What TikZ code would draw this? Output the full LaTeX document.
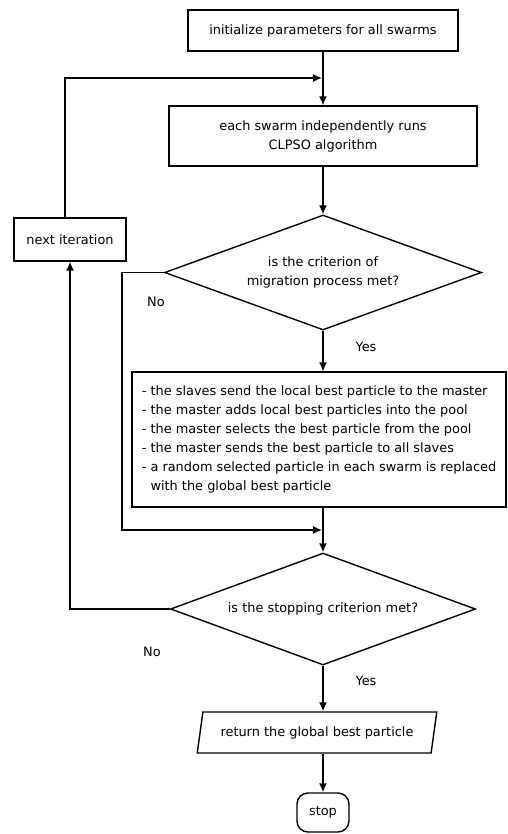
\documentclass[tikz,border=0pt]{standalone}
\usepackage{fontspec}
\setmainfont{DejaVu Sans}
\usetikzlibrary{shapes.geometric,arrows.meta}
\begin{document}
\begin{tikzpicture}[x=1pt,y=-1pt,line width=1.4pt,
  txt/.style={font=\fontsize{12.9}{19}\selectfont},
  box/.style={draw,rectangle,inner sep=0pt,align=center,txt},
  dia/.style={draw,diamond,aspect=2.75,inner sep=0pt,align=center,txt},
  arr/.style={-{Latex[length=9pt,width=8pt]}},
  lab/.style={txt,inner sep=0pt}]
\useasboundingbox (0,0) rectangle (507,834);
\node[box,minimum width=270,minimum height=41] (init) at (323,30.5) {initialize parameters for all swarms};
\node[box,minimum width=308,minimum height=60] (each) at (323,136) {each swarm independently runs\\CLPSO algorithm};
\node[dia,minimum width=317,minimum height=115] (dia1) at (323,272.5) {is the criterion of\\migration process met?};
\node[box,minimum width=112,minimum height=43] (next) at (70,239.5) {next iteration};
\node[box,minimum width=374,minimum height=135,align=left] (proc) at (319,439.5) {- the slaves send the local best particle to the master\\
- the master adds local best particles into the pool\\
- the master selects the best particle from the pool\\
- the master sends the best particle to all slaves\\
- a random selected particle in each swarm is replaced\\
\hphantom{- }with the global best particle};
\node[dia,minimum width=305,minimum height=112] (dia2) at (323,609) {is the stopping criterion met?};
\node[draw,trapezium,trapezium left angle=69,trapezium right angle=111,trapezium stretches=true,
  minimum width=240,minimum height=41,inner sep=0pt,txt] (ret) at (317,732.5) {return the global best particle};
\node[draw,rectangle,rounded corners=11pt,minimum width=52,minimum height=39,inner sep=0pt,txt] (stop) at (323,812.5) {stop};
\coordinate (j1) at (323,78);
\coordinate (j2) at (323,530);
\coordinate (c1) at (65,78);
\coordinate (c2) at (122,272.5);
\coordinate (c3) at (122,530);
\coordinate (c4) at (70,609);
% flow
\draw (init.south) -- (j1);
\draw[arr] (j1) -- (each.north);
\draw[arr] (each.south) -- (dia1.north);
\draw[arr] (dia1.south) -- (dia1.south |- proc.north);
\draw (dia1.south |- proc.south) -- (j2);
\draw[arr] (j2) -- (dia2.north);
\draw[arr] (dia2.south) -- (dia2.south |- ret.north);
\draw[arr] (dia2.south |- ret.south) -- (stop.north);
% loops
\draw[arr] (dia1.west) -- (c2) -- (c3) -- ([xshift=-1pt]j2);
\draw[arr] (dia2.west) -- (c4) -- (next.south);
\draw[arr] ([xshift=-5pt]next.north) -- (c1) -- ([xshift=-1pt]j1);
% labels
\node[lab] (no1) at (156,302) {No};
\node[lab] (yes1) at (366,347) {Yes};
\node[lab] (no2) at (152,652) {No};
\node[lab] (yes2) at (366,681) {Yes};
\end{tikzpicture}
\end{document}
